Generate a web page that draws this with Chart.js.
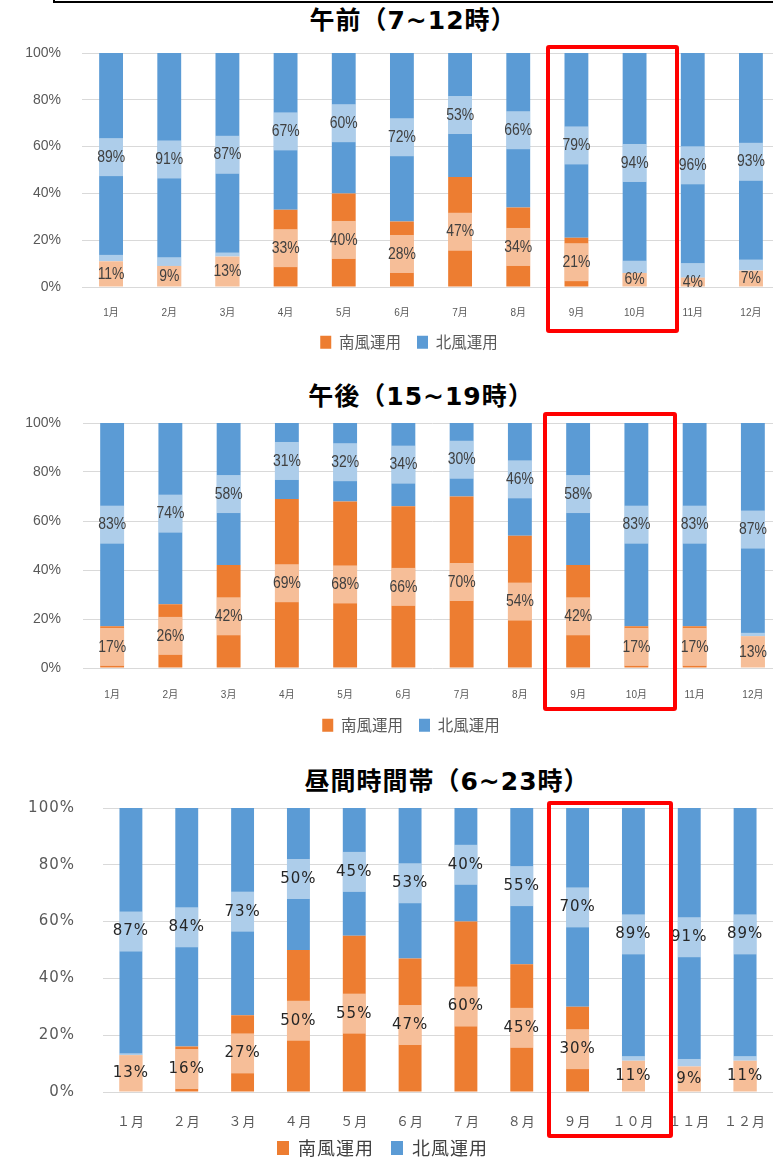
<!DOCTYPE html>
<html><head><meta charset="utf-8">
<script src="https://cdn.jsdelivr.net/npm/chart.js@4.4.1/dist/chart.umd.min.js"></script>
<style>
html,body{margin:0;padding:0;background:#fff;width:773px;height:1160px;overflow:hidden;position:relative;}
canvas{position:absolute;left:0;}
.title{position:absolute;font-weight:bold;font-size:25px;font-family:'DejaVu Sans','Noto Sans CJK JP',sans-serif;letter-spacing:1px;color:#000;white-space:nowrap;transform:translate(-50%,-50%);line-height:1;}
.hl{position:absolute;border:4px solid #ff0000;border-radius:3px;box-sizing:border-box;}
</style></head><body>
<div style="position:absolute;left:53px;top:-20px;width:760px;height:23px;border:2px solid #000;box-sizing:border-box"></div>
<div class="title" style="left:413px;top:20px">午前（7~12時）</div>
<div class="title" style="left:421px;top:396px">午後（15~19時）</div>
<div class="title" style="left:447px;top:781px">昼間時間帯（6~23時）</div>
<canvas id="c1" style="top:43px" width="820" height="317"></canvas>
<canvas id="c2" style="top:413px" width="822" height="330"></canvas>
<canvas id="c3" style="top:798px" width="773" height="377"></canvas>
<div class="hl" style="left:546px;top:45px;width:133px;height:288px"></div>
<div class="hl" style="left:543px;top:412px;width:134px;height:299px"></div>
<div class="hl" style="left:547px;top:801px;width:126px;height:337px"></div>
<script>
const months = ['1月','2月','3月','4月','5月','6月','7月','8月','9月','10月','11月','12月'];
const monthsFull = ['１月','２月','３月','４月','５月','６月','７月','８月','９月','１０月','１１月','１２月'];
const seriesNames = ['南風運用','北風運用'];
const yTickLabels = ['0%','20%','40%','60%','80%','100%'];

// 午前（7~12時）
const amSouth = [11, 9, 13, 33, 40, 28, 47, 34, 21, 6, 4, 7];
const amNorth = [89, 91, 87, 67, 60, 72, 53, 66, 79, 94, 96, 93];
// 午後（15~19時）
const pmSouth = [17, 26, 42, 69, 68, 66, 70, 54, 42, 17, 17, 13];
const pmNorth = [83, 74, 58, 31, 32, 34, 30, 46, 58, 83, 83, 87];
// 昼間時間帯（6~23時）
const daySouth = [13, 16, 27, 50, 55, 47, 60, 45, 30, 11, 9, 11];
const dayNorth = [87, 84, 73, 50, 45, 53, 40, 55, 70, 89, 91, 89];

const southColor = '#ED7D31';
const northColor = '#5B9BD5';

const labelPlugin = {
  id: 'segLabels',
  afterDatasetsDraw(chart, args, opts) {
    const ctx = chart.ctx, area = chart.chartArea;
    chart.data.datasets.forEach((ds, i) => {
      const meta = chart.getDatasetMeta(i);
      meta.data.forEach((bar, j) => {
        const p = bar.getProps(['x', 'y', 'base', 'width'], true);
        const cy = (p.y + p.base) / 2;
        ctx.save();
        ctx.beginPath();
        ctx.rect(area.left, area.top, area.right - area.left, area.bottom - area.top);
        ctx.clip();
        ctx.fillStyle = 'rgba(255,255,255,0.5)';
        ctx.fillRect(p.x - p.width / 2, cy - opts.boxH / 2, p.width, opts.boxH);
        ctx.restore();
        ctx.save();
        if (opts.spacing) ctx.letterSpacing = opts.spacing;
        ctx.font = opts.font;
        ctx.fillStyle = opts.color;
        ctx.textAlign = 'center';
        ctx.textBaseline = 'middle';
        ctx.translate(p.x + (opts.dx || 0), cy + (opts.dy || 0));
        ctx.scale(opts.sx || 1, 1);
        ctx.fillText(ds.data[j] + '%', 0, 0);
        ctx.restore();
      });
    });
  }
};

function spacingPlugin(sp) {
  return {
    id: 'spacing',
    beforeLayout(chart) { chart.ctx.letterSpacing = sp; },
    beforeDraw(chart) { chart.ctx.letterSpacing = sp; }
  };
}
function legendShift(dx, dy) {
  return {
    id: 'legendShift',
    afterLayout(chart) {
      const lg = chart.legend;
      lg.top -= dy; lg.bottom -= dy;
      lg.left += dx; lg.right += dx;
    }
  };
}

function build(id, south, north, labels, cfg) {
  const plugins = [labelPlugin, legendShift(cfg.legDx || 0, cfg.legDy || 0)];
  if (cfg.spacing) plugins.push(spacingPlugin(cfg.spacing));
  return new Chart(document.getElementById(id), {
    type: 'bar',
    data: {
      labels: labels,
      datasets: [
        { label: seriesNames[0], data: south, backgroundColor: southColor, barPercentage: cfg.bp, categoryPercentage: 1, borderWidth: 0 },
        { label: seriesNames[1], data: north, backgroundColor: northColor, barPercentage: cfg.bp, categoryPercentage: 1, borderWidth: 0 }
      ]
    },
    options: {
      responsive: false, animation: false, devicePixelRatio: 1,
      layout: { padding: { top: 10, right: cfg.padRight, left: 0, bottom: 0 } },
      scales: {
        x: {
          stacked: true,
          grid: { display: false, drawTicks: false },
          border: { display: false },
          ticks: { padding: cfg.xPad, color: '#595959', font: cfg.xFont, maxRotation: 0, autoSkip: false },
          afterFit: s => { s.height = cfg.xH; s.paddingLeft = 0; s.paddingRight = 0; }
        },
        y: {
          stacked: true, min: 0, max: 100,
          ticks: { stepSize: 20, padding: cfg.yPad, color: '#595959', font: cfg.yFont, callback: (v, i) => yTickLabels[i] },
          grid: { color: '#D9D9D9', drawTicks: false, lineWidth: 1 },
          border: { display: false },
          afterFit: s => { s.width = cfg.yW; s.paddingTop = 0; s.paddingBottom = 0; }
        }
      },
      plugins: {
        legend: {
          position: 'bottom',
          labels: { boxWidth: cfg.boxW, boxHeight: cfg.boxH, padding: cfg.legPad, color: cfg.legColor, font: cfg.legFont }
        },
        tooltip: { enabled: false },
        segLabels: cfg.seg
      }
    },
    plugins: plugins
  });
}

const latin = "'Liberation Sans','Noto Sans CJK JP',sans-serif";
const cjk = "'Noto Sans CJK JP',sans-serif";

const cfg12 = (xPad, xH, legDx) => ({
  bp: 0.41, padRight: 40, xPad: xPad, xH: xH, legDx: legDx,
  xFont: { size: 10, family: latin }, yFont: { size: 14, family: latin },
  yPad: 21, yW: 82,
  boxW: 11, boxH: 13, legPad: 16, legColor: '#595959', legFont: { size: 15.5, family: cjk },
  seg: { boxH: 38, font: "17px 'Liberation Sans',sans-serif", color: '#404040', sx: 0.82 }
});

build('c1', amSouth, amNorth, months, cfg12(20, 31.5, 19));
build('c2', pmSouth, pmNorth, months, Object.assign(cfg12(21, 33.5, 20), { yPad: 22, yW: 83 }));
build('c3', daySouth, dayNorth, monthsFull, {
  bp: 0.41, padRight: 0, xPad: 23, xH: 38, spacing: '1px', legDy: 8, legDx: -4,
  xFont: { size: 13, family: "'DejaVu Sans','Noto Sans CJK JP',sans-serif" },
  yFont: { size: 15, family: "'DejaVu Sans',sans-serif" },
  yPad: 28, yW: 103,
  boxW: 12, boxH: 14, legPad: 17, legColor: '#404040', legFont: { size: 18, family: cjk },
  seg: { boxH: 40, font: "15px 'DejaVu Sans',sans-serif", color: '#262626', spacing: '1px' }
});
</script>
</body></html>
